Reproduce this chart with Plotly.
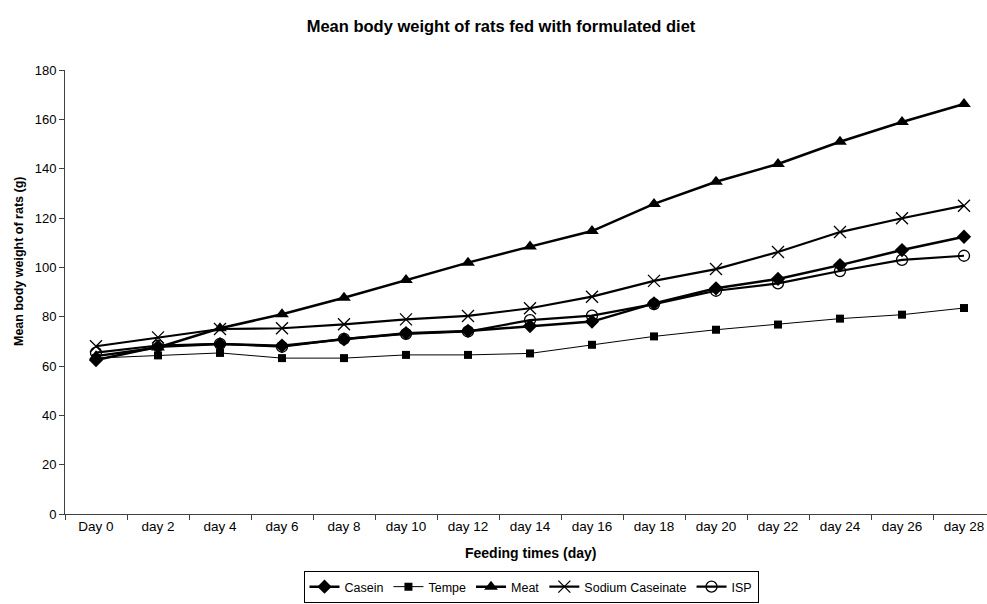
import plotly.graph_objects as go

days = ["Day 0", "day 2", "day 4", "day 6", "day 8", "day 10", "day 12", "day 14",
        "day 16", "day 18", "day 20", "day 22", "day 24", "day 26", "day 28"]

casein = [62.4, 67.8, 68.9, 68.2, 70.8, 73.3, 74.2, 76.2, 78.0, 85.4, 91.5, 95.3, 100.9, 107.0, 112.4]
tempe = [63.2, 64.3, 65.3, 63.2, 63.2, 64.5, 64.5, 65.1, 68.6, 72.0, 74.7, 76.8, 79.2, 80.8, 83.5]
meat = [64.0, 67.5, 75.3, 81.0, 87.7, 94.9, 101.9, 108.4, 114.7, 125.7, 134.7, 141.9, 150.9, 158.9, 166.2]
sodium_caseinate = [68.0, 71.6, 75.0, 75.3, 76.9, 78.9, 80.3, 83.4, 88.1, 94.5, 99.3, 106.2, 114.3, 119.9, 125.0]
isp = [65.4, 68.3, 69.0, 67.8, 71.0, 73.0, 74.0, 78.6, 80.4, 85.1, 90.5, 93.5, 98.5, 103.0, 104.7]

y_ticks = [0, 20, 40, 60, 80, 100, 120, 140, 160, 180]

series = [
    ("Casein", casein, dict(symbol="diamond", size=11, color="black"), 2.5),
    ("Tempe", tempe, dict(symbol="square", size=8, color="black"), 1),
    ("Meat", meat, dict(symbol="triangle-up", size=12, color="black"), 2.5),
    ("Sodium Caseinate", sodium_caseinate,
     dict(symbol="x-thin-open", size=12, color="black", line=dict(width=1.3, color="black")), 2.2),
    ("ISP", isp, dict(symbol="circle-open", size=11, color="black", line=dict(width=1.3, color="black")), 2.2),
]

PL, PT, PW, PH = 65, 70, 922, 444  # plot area in pixels

fig = go.Figure()
for name, vals, mk, lw in series:
    fig.add_trace(go.Scatter(
        x=list(range(len(days))), y=vals, name=name, mode="lines+markers",
        line=dict(color="black", width=lw), marker=mk,
    ))

fig.update_layout(
    width=987, height=604,
    margin=dict(l=PL, r=987 - PL - PW, t=PT, b=604 - PT - PH, autoexpand=False),
    paper_bgcolor="white", plot_bgcolor="white",
    font=dict(family="Liberation Sans, Arial, sans-serif", size=13, color="black"),
    title=dict(text="<b>Mean body weight of rats fed with formulated diet</b>",
               x=501 / 987, xanchor="center", y=1 - 26 / 604, yanchor="middle",
               font=dict(size=16.5)),
    showlegend=True,
    legend=dict(orientation="h", x=(531 - PL) / PW, xanchor="center",
                y=(PT + PH - 571) / PH, yanchor="top",
                bordercolor="black", borderwidth=1, font=dict(size=12.5),
                itemwidth=30, tracegroupgap=0),
    annotations=[
        dict(text="<b>Feeding times (day)</b>", xref="paper", yref="paper",
             x=(530 - PL) / PW, y=(PT + PH - 553) / PH, xanchor="center", yanchor="middle",
             showarrow=False, font=dict(size=14)),
        dict(text="<b>Mean body weight of rats (g)</b>", xref="paper", yref="paper",
             x=(19 - PL) / PW, y=(PT + PH - 262) / PH, xanchor="center", yanchor="middle",
             textangle=-90, showarrow=False, font=dict(size=12.5)),
    ],
)
fig.update_xaxes(
    tickmode="array", tickvals=list(range(len(days))), ticktext=days,
    range=[-0.5, -0.5 + PW / 62], showgrid=False, zeroline=False,
    showline=True, linecolor="#404040", linewidth=1, automargin=False,
    ticks="", tickfont=dict(size=13.5),
    minor=dict(tickmode="array", tickvals=[i + 0.5 for i in range(-1, len(days))],
               ticks="outside", ticklen=5, tickcolor="#404040", showgrid=False),
)
fig.update_yaxes(
    range=[0, 180], tickvals=y_ticks, showgrid=False, zeroline=False,
    showline=True, linecolor="#404040", linewidth=1, automargin=False,
    ticks="outside", ticklen=5, tickcolor="#404040",
    tickfont=dict(size=13),
)

fig.write_html("out.html", config={"displayModeBar": False},
               post_script="document.body.style.margin='0';document.body.style.overflow='hidden';")
